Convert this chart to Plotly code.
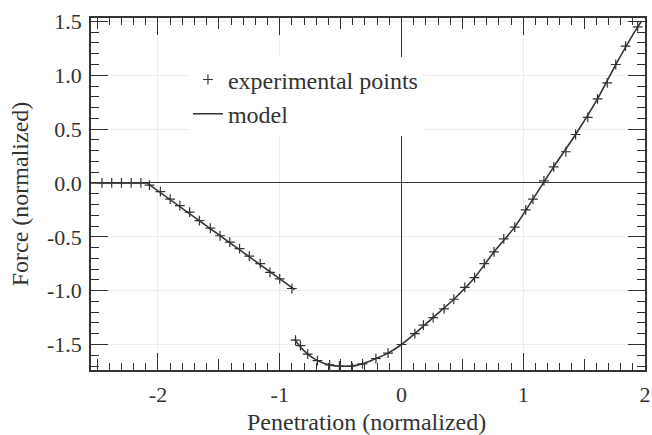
import plotly.graph_objects as go

# ---- data ----
exp_x = [-2.46, -2.38, -2.30, -2.22, -2.14,
         -2.07, -1.98, -1.90, -1.82, -1.74, -1.66, -1.57, -1.49, -1.41, -1.33,
         -1.25, -1.16, -1.08, -1.00, -0.90,
         -0.87, -0.83, -0.77, -0.69, -0.59, -0.51, -0.41, -0.32, -0.21, -0.11,
         0.00, 0.11, 0.18, 0.26, 0.35, 0.43, 0.52, 0.60, 0.68, 0.76, 0.84,
         0.93, 1.02, 1.08, 1.17, 1.25, 1.35, 1.43, 1.53, 1.61, 1.69, 1.76,
         1.84, 1.94]
exp_y = [0.00, 0.00, 0.00, 0.00, 0.00,
         -0.02, -0.08, -0.15, -0.21, -0.27, -0.35, -0.42, -0.49, -0.55, -0.61,
         -0.68, -0.75, -0.83, -0.89, -0.98,
         -1.46, -1.51, -1.59, -1.65, -1.69, -1.70, -1.70, -1.68, -1.63, -1.58,
         -1.50, -1.40, -1.32, -1.25, -1.17, -1.08, -0.97, -0.88, -0.75, -0.64,
         -0.52, -0.41, -0.25, -0.15, 0.02, 0.15, 0.29, 0.45, 0.61, 0.78, 0.93,
         1.10, 1.27, 1.45]

model_x1 = [-2.55, -2.09, -0.877]
model_y1 = [0.00, 0.00, -0.99]

model_x2 = [-0.877, -0.84, -0.77, -0.69, -0.59, -0.51, -0.41, -0.32, -0.21,
            -0.11, 0.00, 0.11, 0.26, 0.43, 0.60, 0.76, 0.93, 1.08, 1.25,
            1.43, 1.61, 1.76, 1.94, 1.97]
model_y2 = [-1.45, -1.51, -1.59, -1.65, -1.69, -1.70, -1.70, -1.68, -1.63,
            -1.58, -1.50, -1.40, -1.25, -1.08, -0.88, -0.64, -0.41, -0.15,
            0.15, 0.45, 0.78, 1.10, 1.45, 1.50]

x_tick_vals = [-2, -1, 0, 1, 2]
x_tick_text = ["-2", "-1", "0", "1", "2"]
x_mid_vals = [-2.5, -1.5, -0.5, 0.5, 1.5]
y_tick_vals = [-1.5, -1.0, -0.5, 0.0, 0.5, 1.0, 1.5]
y_tick_text = ["-1.5", "-1.0", "-0.5", "0.0", "0.5", "1.0", "1.5"]

x_title = "Penetration (normalized)"
y_title = "Force (normalized)"

X_RANGE = [-2.55, 2.0]
Y_RANGE = [-1.737, 1.532]

INK = "#333333"
FONT = "Liberation Serif"

fig = go.Figure()
fig.add_trace(go.Scatter(
    x=exp_x, y=exp_y, mode="markers", name="experimental points",
    marker=dict(symbol="cross-thin", size=7, line=dict(color=INK, width=1.2)),
))
fig.add_trace(go.Scatter(
    x=model_x1, y=model_y1, mode="lines", name="model", legendgroup="model",
    line=dict(color=INK, width=1.6),
))
fig.add_trace(go.Scatter(
    x=model_x2, y=model_y2, mode="lines", name="model", legendgroup="model",
    showlegend=False,
    line=dict(color=INK, width=1.6, shape="spline", smoothing=0.6),
))
# dummy trace to activate the secondary (half-unit tick) axis
fig.add_trace(go.Scatter(x=[None], y=[None], xaxis="x2", showlegend=False,
                         hoverinfo="skip"))

fig.update_layout(
    width=652, height=435,
    margin=dict(l=91, r=7, t=18, b=65),
    paper_bgcolor="white", plot_bgcolor="white",
    font=dict(family=FONT, size=22, color=INK),
    showlegend=True,
    legend=dict(x=0.175, y=0.888, xanchor="left", yanchor="top",
                bgcolor="white", borderwidth=0,
                font=dict(family=FONT, size=24, color=INK),
                tracegroupgap=0),
    xaxis=dict(
        range=X_RANGE, tickmode="array", tickvals=x_tick_vals,
        ticktext=x_tick_text, automargin=False,
        ticks="inside", ticklen=17, tickwidth=1.3, tickcolor=INK,
        minor=dict(tickmode="linear", tick0=0, dtick=0.1, ticks="inside",
                   ticklen=7, tickwidth=1.1, tickcolor=INK, showgrid=False),
        showline=True, linecolor=INK, linewidth=1.6, mirror="ticks",
        showgrid=True, gridcolor="#ececec", gridwidth=1,
        zeroline=True, zerolinecolor=INK, zerolinewidth=1.4,
        tickfont=dict(family=FONT, size=22, color=INK),
        ticklabelstandoff=4,
    ),
    xaxis2=dict(
        range=X_RANGE, overlaying="x", anchor="y", side="bottom",
        tickmode="array", tickvals=x_mid_vals, showticklabels=False,
        automargin=False,
        ticks="inside", ticklen=11, tickwidth=1.2, tickcolor=INK,
        showline=False, mirror="ticks", showgrid=False, zeroline=False,
    ),
    yaxis=dict(
        range=Y_RANGE, tickmode="array", tickvals=y_tick_vals,
        ticktext=y_tick_text, automargin=False,
        ticks="inside", ticklen=17, tickwidth=1.3, tickcolor=INK,
        minor=dict(tickmode="linear", tick0=0, dtick=0.1, ticks="inside",
                   ticklen=8, tickwidth=1.1, tickcolor=INK, showgrid=False),
        showline=True, linecolor=INK, linewidth=1.6, mirror="ticks",
        showgrid=True, gridcolor="#ececec", gridwidth=1,
        zeroline=True, zerolinecolor=INK, zerolinewidth=1.4,
        tickfont=dict(family=FONT, size=22, color=INK),
        ticklabelstandoff=3,
        title=dict(text=y_title,
                   font=dict(family=FONT, size=24, color=INK), standoff=12),
    ),
    annotations=[dict(
        text=x_title, xref="paper", yref="paper", x=0.497, y=-0.148,
        xanchor="center", yanchor="middle", showarrow=False,
        font=dict(family=FONT, size=24, color=INK),
    )],
)

fig.write_html("out.html",
               config={"displayModeBar": False},
               post_script="document.body.style.margin='0px';")
